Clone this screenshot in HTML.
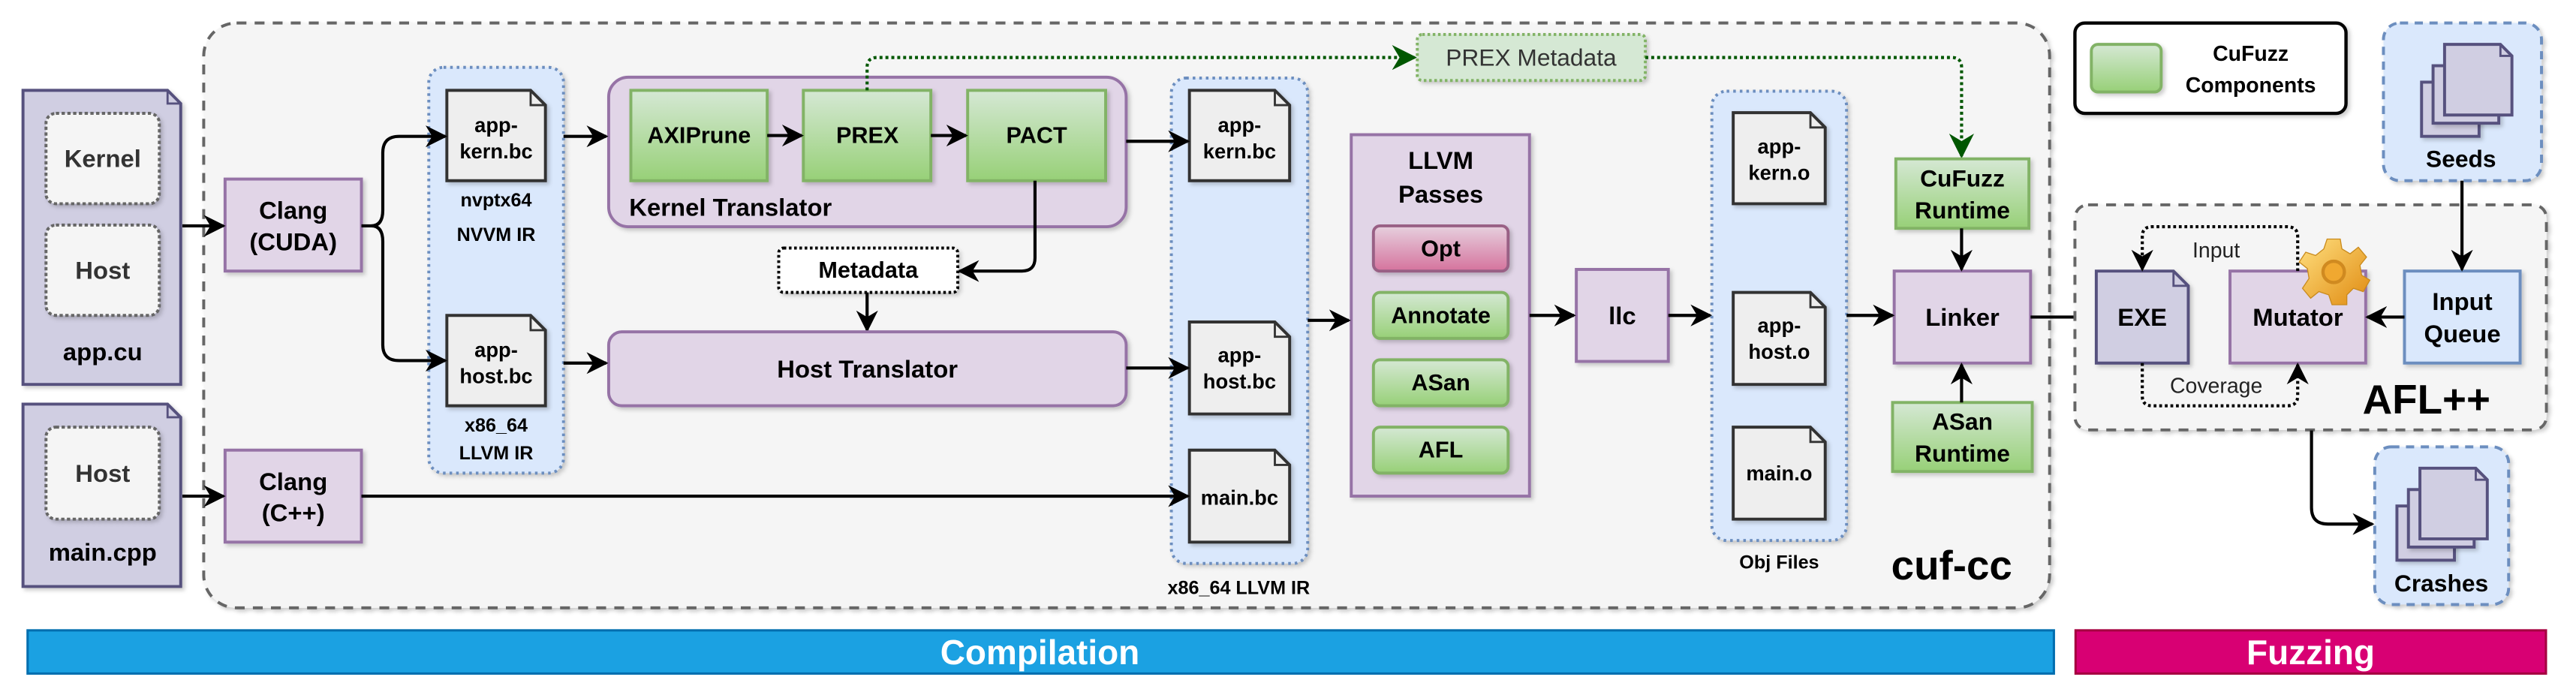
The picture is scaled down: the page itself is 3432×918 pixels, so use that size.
<!DOCTYPE html>
<html><head><meta charset="utf-8"><style>
html,body{margin:0;padding:0;background:#fff}
svg{display:block}
text{font-family:"Liberation Sans",Arial,sans-serif;font-weight:bold;text-anchor:middle;dominant-baseline:central;fill:#000}
</style></head><body>
<svg width="3432" height="918" viewBox="0 0 1568 419.4" preserveAspectRatio="none" xmlns="http://www.w3.org/2000/svg">
<defs>
<marker id="a" viewBox="0 0 10 10" refX="9" refY="5" markerWidth="7" markerHeight="7" orient="auto" markerUnits="strokeWidth"><path d="M0,0 L10,5 L0,10 L3,5 Z" fill="#000"/></marker>
<marker id="g" viewBox="0 0 10 10" refX="9" refY="5" markerWidth="8" markerHeight="8" orient="auto" markerUnits="strokeWidth"><path d="M0,0 L10,5 L0,10 L3,5 Z" fill="#005700"/></marker>
<linearGradient id="gr" x1="0" y1="0" x2="0" y2="1"><stop offset="0" stop-color="#d5e8d4"/><stop offset="1" stop-color="#97d077"/></linearGradient>
<linearGradient id="pk" x1="0" y1="0" x2="0" y2="1"><stop offset="0" stop-color="#e6d0de"/><stop offset="1" stop-color="#d5739d"/></linearGradient>
<linearGradient id="gear" x1="0" y1="0" x2="1" y2="1"><stop offset="0" stop-color="#ffe080"/><stop offset="1" stop-color="#e08a10"/></linearGradient>
<filter id="sh" x="-10%" y="-10%" width="130%" height="130%"><feDropShadow dx="1.5" dy="1.5" stdDeviation="1.2" flood-color="#000" flood-opacity="0.2"/></filter>
</defs>
<style>rect,path.f{filter:url(#sh)}</style>

<!-- cuf-cc outer -->
<rect x="124" y="14" width="1123.6" height="356" rx="20" fill="#f5f5f5" stroke="#666" stroke-width="1.8" stroke-dasharray="6,5"/>
<text x="1188" y="344" style="font-size:25px">cuf-cc</text>

<!-- app.cu -->
<path class="f" d="M14,55 H102 L110,63 V234 H14 Z" fill="#d0cee2" stroke="#56517e" stroke-width="1.8"/>
<path d="M102,55 V63 H110" fill="none" stroke="#56517e" stroke-width="1.3"/>
<rect x="28" y="69" width="69" height="55" rx="6" fill="#f5f5f5" stroke="#666" stroke-width="1.8" stroke-dasharray="2,1.5"/>
<text x="62.5" y="96.5" style="font-size:15px;fill:#333">Kernel</text>
<rect x="28" y="137" width="69" height="55" rx="6" fill="#f5f5f5" stroke="#666" stroke-width="1.8" stroke-dasharray="2,1.5"/>
<text x="62.5" y="164.5" style="font-size:15px;fill:#333">Host</text>
<text x="62.5" y="214" style="font-size:15px">app.cu</text>

<!-- main.cpp -->
<path class="f" d="M14,246 H102 L110,254 V357 H14 Z" fill="#d0cee2" stroke="#56517e" stroke-width="1.8"/>
<path d="M102,246 V254 H110" fill="none" stroke="#56517e" stroke-width="1.3"/>
<rect x="28" y="260" width="69" height="56" rx="6" fill="#f5f5f5" stroke="#666" stroke-width="1.8" stroke-dasharray="2,1.5"/>
<text x="62.5" y="288" style="font-size:15px;fill:#333">Host</text>
<text x="62.5" y="336" style="font-size:15px">main.cpp</text>

<!-- Clang boxes -->
<rect x="137" y="109" width="83" height="56" fill="#e1d5e7" stroke="#9673a6" stroke-width="1.8"/>
<text x="178.5" y="128" style="font-size:15px">Clang</text>
<text x="178.5" y="147" style="font-size:15px">(CUDA)</text>
<rect x="137" y="274" width="83" height="56" fill="#e1d5e7" stroke="#9673a6" stroke-width="1.8"/>
<text x="178.5" y="293" style="font-size:15px">Clang</text>
<text x="178.5" y="312" style="font-size:15px">(C++)</text>
<path d="M111,137.5 H136" stroke="#000" stroke-width="1.9" fill="none" marker-end="url(#a)"/>
<path d="M111,302 H136" stroke="#000" stroke-width="1.9" fill="none" marker-end="url(#a)"/>

<!-- Blue group 1 -->
<rect x="261" y="41" width="82" height="247" rx="9" fill="#dae8fc" stroke="#6c8ebf" stroke-width="1.8" stroke-dasharray="1.6,2.4"/>
<path class="f" d="M272,55 H323 L332,64 V110 H272 Z" fill="#eee" stroke="#333" stroke-width="1.8"/>
<path d="M323,55 V64 H332" fill="none" stroke="#333" stroke-width="1.3"/>
<text x="302" y="76" style="font-size:12.5px">app-</text>
<text x="302" y="92" style="font-size:12.5px">kern.bc</text>
<text x="302" y="122" style="font-size:11.5px">nvptx64</text>
<text x="302" y="143" style="font-size:11.5px">NVVM IR</text>
<path class="f" d="M272,192 H323 L332,201 V247 H272 Z" fill="#eee" stroke="#333" stroke-width="1.8"/>
<path d="M323,192 V201 H332" fill="none" stroke="#333" stroke-width="1.3"/>
<text x="302" y="213" style="font-size:12.5px">app-</text>
<text x="302" y="229" style="font-size:12.5px">host.bc</text>
<text x="302" y="259" style="font-size:11.5px">x86_64</text>
<text x="302" y="276" style="font-size:11.5px">LLVM IR</text>
<path d="M220,137.5 H226 Q233,137.5 233,128 V93 Q233,83 243,83 H271" stroke="#000" stroke-width="1.9" fill="none" marker-end="url(#a)"/>
<path d="M226,137.5 Q233,137.5 233,147 V210 Q233,219.5 243,219.5 H271" stroke="#000" stroke-width="1.9" fill="none" marker-end="url(#a)"/>

<!-- Kernel translator -->
<rect x="370.5" y="47" width="315" height="91" rx="12" fill="#e1d5e7" stroke="#9673a6" stroke-width="1.8"/>
<text x="383" y="126" style="font-size:15px;text-anchor:start">Kernel Translator</text>
<rect x="384" y="55" width="83" height="55" fill="url(#gr)" stroke="#82b366" stroke-width="1.8"/>
<text x="425.5" y="82.5" style="font-size:14px">AXIPrune</text>
<rect x="489" y="55" width="77.6" height="55" fill="url(#gr)" stroke="#82b366" stroke-width="1.8"/>
<text x="528" y="82.5" style="font-size:14px">PREX</text>
<rect x="589" y="55" width="84" height="55" fill="url(#gr)" stroke="#82b366" stroke-width="1.8"/>
<text x="631" y="82.5" style="font-size:14px">PACT</text>
<path d="M467,82.5 H488" stroke="#000" stroke-width="1.9" fill="none" marker-end="url(#a)"/>
<path d="M566.6,82.5 H588" stroke="#000" stroke-width="1.9" fill="none" marker-end="url(#a)"/>
<path d="M343,83 H369" stroke="#000" stroke-width="1.9" fill="none" marker-end="url(#a)"/>

<!-- Metadata -->
<rect x="474" y="151" width="109" height="27" rx="3" fill="#fff" stroke="#000" stroke-width="1.8" stroke-dasharray="1.6,1.6"/>
<text x="528.5" y="164.5" style="font-size:14px">Metadata</text>
<path d="M630,110 V157 Q630,165 622,165 H584" stroke="#000" stroke-width="1.9" fill="none" marker-end="url(#a)"/>
<path d="M527.8,178 V201" stroke="#000" stroke-width="1.9" fill="none" marker-end="url(#a)"/>

<!-- Host translator -->
<rect x="370.5" y="202" width="315" height="45" rx="8" fill="#e1d5e7" stroke="#9673a6" stroke-width="1.8"/>
<text x="528" y="224.5" style="font-size:15px">Host Translator</text>
<path d="M343,221 H369" stroke="#000" stroke-width="1.9" fill="none" marker-end="url(#a)"/>

<!-- PREX metadata dotted -->
<path d="M527.8,55 V41 Q527.8,35 534,35 H861" stroke="#005700" stroke-width="1.9" stroke-dasharray="1.8,1.8" fill="none" marker-end="url(#g)"/>
<rect x="862.7" y="21" width="138.8" height="28" rx="3" fill="#d5e8d4" stroke="#82b366" stroke-width="1.8" stroke-dasharray="1.6,1.6"/>
<text x="932" y="35" style="font-size:14.5px;font-weight:normal;fill:#333">PREX Metadata</text>
<path d="M1001.5,35 H1188 Q1194,35 1194,41 V95" stroke="#005700" stroke-width="1.9" stroke-dasharray="1.8,1.8" fill="none" marker-end="url(#g)"/>

<!-- Blue group 2 -->
<rect x="713" y="47.5" width="83" height="295.5" rx="9" fill="#dae8fc" stroke="#6c8ebf" stroke-width="1.8" stroke-dasharray="1.6,2.4"/>
<text x="754" y="358" style="font-size:11.5px">x86_64 LLVM IR</text>
<path class="f" d="M724,55 H776 L785,64 V110 H724 Z" fill="#eee" stroke="#333" stroke-width="1.8"/>
<path d="M776,55 V64 H785" fill="none" stroke="#333" stroke-width="1.3"/>
<text x="754.5" y="76" style="font-size:12.5px">app-</text>
<text x="754.5" y="92" style="font-size:12.5px">kern.bc</text>
<path class="f" d="M724,196 H776 L785,205 V252 H724 Z" fill="#eee" stroke="#333" stroke-width="1.8"/>
<path d="M776,196 V205 H785" fill="none" stroke="#333" stroke-width="1.3"/>
<text x="754.5" y="216" style="font-size:12.5px">app-</text>
<text x="754.5" y="232" style="font-size:12.5px">host.bc</text>
<path class="f" d="M724,274 H776 L785,283 V330 H724 Z" fill="#eee" stroke="#333" stroke-width="1.8"/>
<path d="M776,274 V283 H785" fill="none" stroke="#333" stroke-width="1.3"/>
<text x="754.5" y="303" style="font-size:12.5px">main.bc</text>
<path d="M685.5,86 H723" stroke="#000" stroke-width="1.9" fill="none" marker-end="url(#a)"/>
<path d="M685.5,224 H723" stroke="#000" stroke-width="1.9" fill="none" marker-end="url(#a)"/>
<path d="M220,302 H723" stroke="#000" stroke-width="1.9" fill="none" marker-end="url(#a)"/>

<!-- LLVM passes -->
<rect x="822.5" y="82" width="108.5" height="220" fill="#e1d5e7" stroke="#9673a6" stroke-width="1.8"/>
<text x="877" y="97.5" style="font-size:15px">LLVM</text>
<text x="877" y="118" style="font-size:15px">Passes</text>
<rect x="836" y="137.5" width="82" height="27.5" rx="4" fill="url(#pk)" stroke="#996185" stroke-width="1.8"/>
<text x="877" y="151.5" style="font-size:14px">Opt</text>
<rect x="836" y="178" width="82" height="28" rx="4" fill="url(#gr)" stroke="#82b366" stroke-width="1.8"/>
<text x="877" y="192" style="font-size:14px">Annotate</text>
<rect x="836" y="219" width="82" height="28" rx="4" fill="url(#gr)" stroke="#82b366" stroke-width="1.8"/>
<text x="877" y="233" style="font-size:14px">ASan</text>
<rect x="836" y="260" width="82" height="28" rx="4" fill="url(#gr)" stroke="#82b366" stroke-width="1.8"/>
<text x="877" y="274" style="font-size:14px">AFL</text>
<path d="M796,195 H821" stroke="#000" stroke-width="1.9" fill="none" marker-end="url(#a)"/>

<!-- llc -->
<rect x="959.5" y="164" width="56" height="56" fill="#e1d5e7" stroke="#9673a6" stroke-width="1.8"/>
<text x="987.5" y="192" style="font-size:15px">llc</text>
<path d="M931,192 H958" stroke="#000" stroke-width="1.9" fill="none" marker-end="url(#a)"/>
<path d="M1015.5,192 H1041" stroke="#000" stroke-width="1.9" fill="none" marker-end="url(#a)"/>

<!-- Obj group -->
<rect x="1042" y="55.5" width="82" height="273.5" rx="9" fill="#dae8fc" stroke="#6c8ebf" stroke-width="1.8" stroke-dasharray="1.6,2.4"/>
<text x="1083" y="342.5" style="font-size:11.5px">Obj Files</text>
<path class="f" d="M1055,68.6 H1102 L1111,77.6 V124 H1055 Z" fill="#eee" stroke="#333" stroke-width="1.8"/>
<path d="M1102,68.6 V77.6 H1111" fill="none" stroke="#333" stroke-width="1.3"/>
<text x="1083" y="89" style="font-size:12.5px">app-</text>
<text x="1083" y="105" style="font-size:12.5px">kern.o</text>
<path class="f" d="M1055,178 H1102 L1111,187 V234 H1055 Z" fill="#eee" stroke="#333" stroke-width="1.8"/>
<path d="M1102,178 V187 H1111" fill="none" stroke="#333" stroke-width="1.3"/>
<text x="1083" y="198" style="font-size:12.5px">app-</text>
<text x="1083" y="214" style="font-size:12.5px">host.o</text>
<path class="f" d="M1055,260 H1102 L1111,269 V316 H1055 Z" fill="#eee" stroke="#333" stroke-width="1.8"/>
<path d="M1102,260 V269 H1111" fill="none" stroke="#333" stroke-width="1.3"/>
<text x="1083" y="288" style="font-size:12.5px">main.o</text>

<!-- Linker & runtimes -->
<rect x="1154" y="96.7" width="81" height="42.3" fill="url(#gr)" stroke="#82b366" stroke-width="1.8"/>
<text x="1194.5" y="108.5" style="font-size:14.5px">CuFuzz</text>
<text x="1194.5" y="128" style="font-size:14.5px">Runtime</text>
<rect x="1153" y="165" width="83" height="56" fill="#e1d5e7" stroke="#9673a6" stroke-width="1.8"/>
<text x="1194.5" y="193" style="font-size:15px">Linker</text>
<rect x="1152" y="245" width="85" height="42" fill="url(#gr)" stroke="#82b366" stroke-width="1.8"/>
<text x="1194.5" y="256.5" style="font-size:14.5px">ASan</text>
<text x="1194.5" y="276" style="font-size:14.5px">Runtime</text>
<path d="M1194,139 V164" stroke="#000" stroke-width="1.9" fill="none" marker-end="url(#a)"/>
<path d="M1194,245 V222" stroke="#000" stroke-width="1.9" fill="none" marker-end="url(#a)"/>
<path d="M1124,192 H1152" stroke="#000" stroke-width="1.9" fill="none" marker-end="url(#a)"/>
<path d="M1236,193 H1275" stroke="#000" stroke-width="1.9" fill="none" marker-end="url(#a)"/>

<!-- Legend -->
<rect x="1263" y="14" width="165" height="55" rx="6" fill="#fff" stroke="#000" stroke-width="2"/>
<rect x="1273" y="27" width="42.5" height="29" rx="4" fill="url(#gr)" stroke="#82b366" stroke-width="1.8"/>
<text x="1370" y="33" style="font-size:13px">CuFuzz</text>
<text x="1370" y="52" style="font-size:13px">Components</text>

<!-- AFL++ -->
<rect x="1263" y="124.7" width="287" height="137" rx="8" fill="#f5f5f5" stroke="#666" stroke-width="1.8" stroke-dasharray="6,5"/>
<text x="1477" y="243" style="font-size:25px">AFL++</text>
<path class="f" d="M1276,165 H1323 L1332,174 V221 H1276 Z" fill="#d0cee2" stroke="#56517e" stroke-width="1.8"/>
<path d="M1323,165 V174 H1332" fill="none" stroke="#56517e" stroke-width="1.3"/>
<text x="1304" y="193" style="font-size:15px">EXE</text>
<rect x="1357.4" y="165" width="82.6" height="56" fill="#e1d5e7" stroke="#9673a6" stroke-width="1.8"/>
<text x="1398.7" y="193" style="font-size:15px">Mutator</text>
<rect x="1463.6" y="165" width="70.4" height="56" fill="#dae8fc" stroke="#6c8ebf" stroke-width="1.8"/>
<text x="1498.8" y="183.5" style="font-size:15px">Input</text>
<text x="1498.8" y="203" style="font-size:15px">Queue</text>
<path d="M1398.6,165 V144 Q1398.6,138 1392,138 H1310 Q1304,138 1304,144 V164" stroke="#000" stroke-width="1.9" stroke-dasharray="1.7,1.7" fill="none" marker-end="url(#a)"/>
<text x="1349" y="152.7" style="font-size:13px;font-weight:normal;fill:#222">Input</text>
<path d="M1304,221 V241 Q1304,247 1310,247 H1392 Q1398.6,247 1398.6,241 V222" stroke="#000" stroke-width="1.9" stroke-dasharray="1.7,1.7" fill="none" marker-end="url(#a)"/>
<rect x="1322" y="227" width="55" height="16" fill="#f5f5f5" style="filter:none"/>
<text x="1349" y="235" style="font-size:13px;font-weight:normal;fill:#222">Coverage</text>
<!-- gear -->
<g transform="translate(1420.5,165.5)">
<path d="M-4,-20 H4 L5,-14 L10,-11 L15,-15 L20,-9 L16,-4 L17,2 L22,5 L18,12 L12,10 L8,14 L8,20 H-1 L-3,14 L-9,12 L-14,16 L-19,10 L-15,4 L-16,-2 L-21,-6 L-17,-12 L-11,-10 L-6,-14 Z" fill="url(#gear)" stroke="#c98a1c" stroke-width="0.6"/>
<circle cx="0" cy="0" r="6.5" fill="#f0a830" stroke="#d08a20" stroke-width="2"/>
</g>
<path d="M1463.6,193 H1441" stroke="#000" stroke-width="1.9" fill="none" marker-end="url(#a)"/>

<!-- Seeds -->
<rect x="1450.8" y="14" width="96.2" height="96" rx="10" fill="#dae8fc" stroke="#6c8ebf" stroke-width="1.8" stroke-dasharray="5,4"/>
<rect x="1474" y="50" width="35" height="33" fill="#d0cee2" stroke="#56517e" stroke-width="1.8"/>
<rect x="1481" y="40" width="40" height="35" fill="#d0cee2" stroke="#56517e" stroke-width="1.8"/>
<path d="M1488,27 H1522 L1529,34 V70 H1488 Z" fill="#d0cee2" stroke="#56517e" stroke-width="1.8"/>
<path d="M1522,27 V34 H1529" fill="none" stroke="#56517e" stroke-width="1.3"/>
<text x="1498" y="96.7" style="font-size:14.5px">Seeds</text>
<path d="M1498.6,110 V164" stroke="#000" stroke-width="1.9" fill="none" marker-end="url(#a)"/>

<!-- Crashes -->
<rect x="1445.5" y="272" width="81.5" height="96" rx="10" fill="#dae8fc" stroke="#6c8ebf" stroke-width="1.8" stroke-dasharray="5,4"/>
<rect x="1459" y="308" width="35" height="33" fill="#d0cee2" stroke="#56517e" stroke-width="1.8"/>
<rect x="1466" y="298" width="40" height="35" fill="#d0cee2" stroke="#56517e" stroke-width="1.8"/>
<path d="M1473,285 H1507 L1514,292 V328 H1473 Z" fill="#d0cee2" stroke="#56517e" stroke-width="1.8"/>
<path d="M1507,285 V292 H1514" fill="none" stroke="#56517e" stroke-width="1.3"/>
<text x="1486" y="355" style="font-size:14.5px">Crashes</text>
<path d="M1407,262 V309 Q1407,319 1417,319 H1444" stroke="#000" stroke-width="1.9" fill="none" marker-end="url(#a)"/>

<!-- Bars -->
<rect x="16.8" y="383.7" width="1233.4" height="26.3" fill="#1ba1e2" stroke="#006eaf" stroke-width="1.4" style="filter:none"/>
<text x="633" y="397" style="font-size:21px;fill:#fff">Compilation</text>
<rect x="1263.4" y="383.7" width="286.3" height="26.3" fill="#d80073" stroke="#a50040" stroke-width="1.4" style="filter:none"/>
<text x="1406.5" y="397" style="font-size:21px;fill:#fff">Fuzzing</text>
</svg>
</body></html>
